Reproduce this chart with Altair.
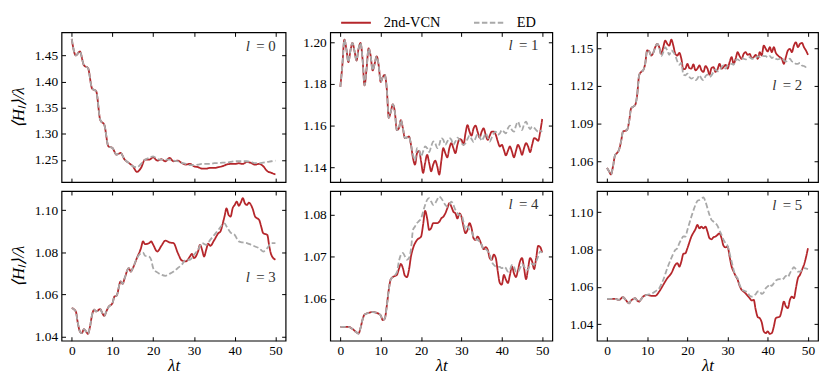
import altair as alt
import pandas as pd

SERIES = ["2nd-VCN", "ED"]
X_TICKS = [0, 10, 20, 30, 40, 50]

# ---------------- l = 0 ----------------
t_l0 = list(range(51))
vcn_l0 = [1.4816, 1.4500, 1.4576, 1.4310, 1.4259, 1.3867, 1.3816, 1.3266, 1.3171, 1.2759,
          1.2728, 1.2601, 1.2633, 1.2506, 1.2443, 1.2380, 1.2272, 1.2348, 1.2506, 1.2506,
          1.2551, 1.2487, 1.2513, 1.2475, 1.2538, 1.2475, 1.2487, 1.2443, 1.2411, 1.2424,
          1.2380, 1.2361, 1.2335, 1.2335, 1.2348, 1.2348, 1.2361, 1.2380, 1.2411, 1.2424,
          1.2424, 1.2437, 1.2424, 1.2462, 1.2443, 1.2411, 1.2424, 1.2380, 1.2285, 1.2253,
          1.2222]
ed_l0 = [1.4816, 1.4500, 1.4576, 1.4310, 1.4259, 1.3867, 1.3816, 1.3266, 1.3171, 1.2759,
         1.2728, 1.2601, 1.2633, 1.2506, 1.2443, 1.2380, 1.2360, 1.2424, 1.2506, 1.2538,
         1.2570, 1.2519, 1.2506, 1.2506, 1.2506, 1.2487, 1.2475, 1.2443, 1.2424, 1.2399,
         1.2399, 1.2411, 1.2424, 1.2424, 1.2424, 1.2437, 1.2437, 1.2449, 1.2449, 1.2462,
         1.2475, 1.2475, 1.2475, 1.2475, 1.2462, 1.2437, 1.2437, 1.2449, 1.2462, 1.2475,
         1.2487]

# ---------------- l = 1 ----------------
t_l1 = [i * 0.5 for i in range(101)]
vcn_l1 = [1.1786, 1.1889, 1.2013, 1.1968, 1.1905, 1.1960, 1.1997, 1.1960, 1.1913, 1.1968,
          1.1997, 1.1921, 1.1794, 1.1873, 1.1971, 1.1937, 1.1865, 1.1897, 1.1933, 1.1889,
          1.1810, 1.1833, 1.1844, 1.1778, 1.1638, 1.1667, 1.1702, 1.1667, 1.1579, 1.1587,
          1.1627, 1.1587, 1.1540, 1.1543, 1.1548, 1.1508,
          1.1444, 1.1413, 1.1468, 1.1479, 1.1429, 1.1373, 1.1421, 1.1460, 1.1421, 1.1381,
          1.1413, 1.1432, 1.1405, 1.1365, 1.1429, 1.1492, 1.1468, 1.1448, 1.1492, 1.1516,
          1.1492, 1.1468, 1.1508, 1.1536, 1.1532, 1.1508, 1.1563, 1.1603, 1.1571, 1.1552,
          1.1587, 1.1600, 1.1571, 1.1543, 1.1571, 1.1587, 1.1556, 1.1532, 1.1552, 1.1571,
          1.1571, 1.1556, 1.1524, 1.1500, 1.1508, 1.1484, 1.1457, 1.1479, 1.1500, 1.1476,
          1.1448, 1.1479, 1.1508, 1.1489, 1.1460, 1.1492, 1.1516, 1.1500, 1.1473, 1.1508,
          1.1540, 1.1536, 1.1527, 1.1571, 1.1632]
ed_l1 = [1.1786, 1.1889, 1.2013, 1.1968, 1.1905, 1.1960, 1.1997, 1.1960, 1.1913, 1.1968,
         1.1997, 1.1921, 1.1794, 1.1873, 1.1971, 1.1937, 1.1865, 1.1897, 1.1933, 1.1889,
         1.1810, 1.1833, 1.1844, 1.1778, 1.1638, 1.1667, 1.1702, 1.1667, 1.1579, 1.1587,
         1.1627, 1.1587, 1.1540, 1.1543, 1.1548, 1.1508,
         1.1460, 1.1432, 1.1492, 1.1484, 1.1452, 1.1476, 1.1500, 1.1492, 1.1473, 1.1500,
         1.1524, 1.1516, 1.1492, 1.1508, 1.1540, 1.1532, 1.1508, 1.1524, 1.1540, 1.1532,
         1.1508, 1.1524, 1.1543, 1.1532, 1.1516, 1.1508, 1.1516, 1.1536, 1.1552, 1.1536,
         1.1521, 1.1540, 1.1559, 1.1548, 1.1527, 1.1543, 1.1563, 1.1543, 1.1524, 1.1543,
         1.1563, 1.1571, 1.1556, 1.1563, 1.1579, 1.1571, 1.1563, 1.1587, 1.1600, 1.1579,
         1.1571, 1.1600, 1.1619, 1.1595, 1.1579, 1.1606, 1.1619, 1.1598, 1.1584, 1.1595,
         1.1590, 1.1579, 1.1571, 1.1575, 1.1571]

# ---------------- l = 2 ----------------
t_l2 = [i * 0.5 for i in range(101)]
vcn_l2 = [1.0547, 1.0521, 1.0495, 1.0560, 1.0647, 1.0666, 1.0692, 1.0758, 1.0837, 1.0842,
          1.0850, 1.0916, 1.1021, 1.1034, 1.1047, 1.1126, 1.1284, 1.1311, 1.1324, 1.1376,
          1.1482, 1.1474, 1.1442, 1.1463, 1.1508, 1.1534, 1.1508, 1.1455, 1.1508, 1.1561,
          1.1534, 1.1521, 1.1568, 1.1521, 1.1455, 1.1442, 1.1463, 1.1416, 1.1332, 1.1337,
          1.1376, 1.1342, 1.1337, 1.1371, 1.1324, 1.1337, 1.1363, 1.1324, 1.1311, 1.1358,
          1.1337, 1.1289, 1.1342, 1.1350, 1.1311, 1.1332, 1.1376, 1.1337, 1.1350, 1.1368,
          1.1337, 1.1389, 1.1429, 1.1376, 1.1416, 1.1468, 1.1437, 1.1416, 1.1455, 1.1468,
          1.1447, 1.1455, 1.1421, 1.1429, 1.1447, 1.1416, 1.1468, 1.1442, 1.1521, 1.1495,
          1.1474, 1.1508, 1.1468, 1.1508, 1.1463, 1.1442, 1.1429, 1.1416, 1.1376, 1.1429,
          1.1482, 1.1495, 1.1468, 1.1521, 1.1547, 1.1508, 1.1534, 1.1542, 1.1508, 1.1482,
          1.1447]
ed_l2 = [1.0547, 1.0521, 1.0495, 1.0560, 1.0647, 1.0666, 1.0692, 1.0758, 1.0837, 1.0842,
         1.0850, 1.0916, 1.1021, 1.1034, 1.1047, 1.1126, 1.1284, 1.1311, 1.1324, 1.1376,
         1.1482, 1.1474, 1.1442, 1.1463, 1.1508, 1.1534, 1.1508,
         1.1437, 1.1468, 1.1508, 1.1482, 1.1447, 1.1482, 1.1468, 1.1442, 1.1395, 1.1368,
         1.1384, 1.1289, 1.1284,
         1.1297, 1.1271, 1.1258, 1.1263, 1.1245, 1.1258, 1.1284, 1.1258, 1.1245, 1.1276,
         1.1289, 1.1271, 1.1284, 1.1311, 1.1332, 1.1316, 1.1324, 1.1350, 1.1363, 1.1337,
         1.1363, 1.1368, 1.1376, 1.1368, 1.1403, 1.1411, 1.1403, 1.1421, 1.1416, 1.1411,
         1.1421, 1.1429, 1.1416, 1.1416, 1.1421, 1.1437, 1.1429, 1.1442, 1.1437, 1.1437,
         1.1426, 1.1437, 1.1421, 1.1429, 1.1416, 1.1411, 1.1416, 1.1421, 1.1403, 1.1395,
         1.1403, 1.1416, 1.1395, 1.1389, 1.1376, 1.1376, 1.1384, 1.1363, 1.1358, 1.1350,
         1.1350]

# ---------------- l = 3 ----------------
t_vcn_l3 = [0, 1, 1.5, 2, 2.5, 3, 3.5, 4, 4.5, 5, 5.5, 6, 7, 7.5, 8, 8.5, 9, 10, 10.5, 11,
            12, 12.5, 13, 14, 14.5, 15, 16, 17, 17.5, 18, 19, 19.5, 20, 21, 22, 23, 24, 25,
            26, 27, 28, 29, 29.5, 30, 31, 31.5, 32, 32.5, 33, 33.5, 34, 35, 36, 36.5, 37,
            37.5, 38, 38.5, 39, 39.5, 40, 40.5, 41, 41.5, 42, 42.5, 43, 43.5, 44, 44.5, 45,
            45.5, 46, 46.5, 47, 48, 48.5, 49, 50]
vcn_l3 = [1.0536, 1.0520, 1.0465, 1.0425, 1.0417, 1.0436, 1.0425, 1.0414, 1.0449, 1.0504,
          1.0528, 1.0520, 1.0531, 1.0512, 1.0499, 1.0520, 1.0540, 1.0559, 1.0591, 1.0594,
          1.0662, 1.0651, 1.0678, 1.0725, 1.0709, 1.0725, 1.0773, 1.0820, 1.0852, 1.0839,
          1.0844, 1.0852, 1.0836, 1.0804, 1.0831, 1.0856, 1.0847, 1.0844, 1.0799, 1.0762,
          1.0757, 1.0780, 1.0793, 1.0773, 1.0804, 1.0836, 1.0812, 1.0780, 1.0812, 1.0841,
          1.0831, 1.0859, 1.0891, 1.0899, 1.0931, 1.0970, 1.1009, 1.0978, 1.0970, 1.1009,
          1.1025, 1.1041, 1.1021, 1.1036, 1.1057, 1.1033, 1.1025, 1.1036, 1.1025, 1.1002,
          1.0970, 1.0962, 1.0954, 1.0923, 1.0891, 1.0883, 1.0828, 1.0788, 1.0765]
t_ed_l3 = [0, 1, 1.5, 2, 2.5, 3, 3.5, 4, 4.5, 5, 5.5, 6, 7, 7.5, 8, 8.5, 9, 10, 10.5, 11,
           12, 12.5, 13, 14, 14.5, 15, 16, 17, 17.5, 18, 19, 19.5, 20, 21, 22, 23, 24, 25,
           26, 27, 28, 29, 30, 31, 32, 33, 34, 35, 36, 37, 37.5, 38, 39, 40, 41, 42, 43,
           44, 45, 46, 47, 48, 49, 50]
ed_l3 = [1.0536, 1.0520, 1.0465, 1.0425, 1.0417, 1.0436, 1.0425, 1.0414, 1.0449, 1.0504,
         1.0528, 1.0520, 1.0531, 1.0512, 1.0499, 1.0520, 1.0540, 1.0559, 1.0591, 1.0594,
         1.0662, 1.0651, 1.0678, 1.0725, 1.0709, 1.0725, 1.0773,
         1.0796, 1.0799, 1.0784, 1.0780, 1.0765, 1.0725, 1.0705, 1.0694, 1.0689, 1.0698,
         1.0709, 1.0725, 1.0741, 1.0765, 1.0765, 1.0788, 1.0812, 1.0844, 1.0836, 1.0859,
         1.0883, 1.0907, 1.0931, 1.0938, 1.0923, 1.0894, 1.0883, 1.0852, 1.0847, 1.0844,
         1.0836, 1.0828, 1.0820, 1.0804, 1.0820, 1.0844, 1.0844]

# ---------------- l = 4 ----------------
t_vcn_l4 = [0, 1, 2, 3, 4, 4.5, 5, 5.5, 6, 7, 8, 9, 10, 10.5, 11, 11.5, 12, 12.5, 13, 14,
            14.5, 15, 15.5, 16, 16.5, 17, 17.5, 18, 19, 20, 20.5, 21, 21.5, 22, 22.5, 23,
            23.5, 24, 24.5, 25, 25.5, 26, 26.5, 27, 27.5, 28, 28.5, 29, 29.5, 30, 30.5, 31,
            31.5, 32, 32.5, 33, 33.5, 34, 34.5, 35, 35.5, 36, 36.5, 37, 37.5, 38, 38.5, 39,
            39.5, 40, 40.5, 41, 41.5, 42, 42.5, 43, 43.5, 44, 44.5, 45, 45.5, 46, 46.5, 47,
            47.5, 48, 48.5, 49, 49.5, 50]
vcn_l4 = [1.0534, 1.0534, 1.0534, 1.0529, 1.0521, 1.0518, 1.0531, 1.0551, 1.0563, 1.0567,
          1.0569, 1.0567, 1.0561, 1.0550, 1.0553, 1.0583, 1.0622, 1.0647, 1.0652, 1.0657,
          1.0671, 1.0683, 1.0673, 1.0655, 1.0652, 1.0669, 1.0701, 1.0720, 1.0740, 1.0748,
          1.0776, 1.0809, 1.0791, 1.0764, 1.0768, 1.0780, 1.0780, 1.0780, 1.0783, 1.0791,
          1.0795, 1.0803, 1.0815, 1.0827, 1.0819, 1.0807, 1.0803, 1.0791, 1.0803, 1.0795,
          1.0772, 1.0756, 1.0764, 1.0780, 1.0768, 1.0744, 1.0740, 1.0748, 1.0740, 1.0728,
          1.0718, 1.0723, 1.0717, 1.0697, 1.0693, 1.0705, 1.0697, 1.0665, 1.0638, 1.0634,
          1.0657, 1.0646, 1.0638, 1.0657, 1.0677, 1.0661, 1.0652, 1.0669, 1.0689, 1.0697,
          1.0673, 1.0647, 1.0673, 1.0697, 1.0689, 1.0671, 1.0697, 1.0726, 1.0723, 1.0710]
t_ed_l4 = [0, 1, 2, 3, 4, 4.5, 5, 5.5, 6, 7, 8, 9, 10, 10.5, 11, 11.5, 12, 12.5, 13] + \
          [14 + i * 0.5 for i in range(73)]
ed_l4 = [1.0534, 1.0534, 1.0534, 1.0529, 1.0521, 1.0518, 1.0531, 1.0551, 1.0563, 1.0567,
         1.0569, 1.0567, 1.0561, 1.0550, 1.0553, 1.0583, 1.0622, 1.0647, 1.0652,
         1.0663, 1.0689, 1.0705, 1.0709, 1.0701, 1.0693, 1.0697, 1.0718, 1.0764, 1.0772,
         1.0780, 1.0785, 1.0791, 1.0807, 1.0823, 1.0835, 1.0839, 1.0831, 1.0823, 1.0827,
         1.0836, 1.0843, 1.0839, 1.0831, 1.0823, 1.0819, 1.0823, 1.0831, 1.0823, 1.0811,
         1.0803, 1.0799, 1.0799, 1.0783, 1.0764, 1.0772, 1.0764, 1.0760, 1.0748, 1.0742,
         1.0740, 1.0736, 1.0728, 1.0717, 1.0718, 1.0713, 1.0705, 1.0689, 1.0681, 1.0677,
         1.0676, 1.0676, 1.0673, 1.0676, 1.0673, 1.0665, 1.0669, 1.0681, 1.0677, 1.0665,
         1.0665, 1.0673, 1.0683, 1.0677, 1.0669, 1.0669, 1.0681, 1.0683, 1.0681, 1.0689,
         1.0701, 1.0713, 1.0710]

# ---------------- l = 5 ----------------
t_vcn_l5 = [0, 1, 2, 3, 4, 4.5, 5, 5.5, 6, 6.5, 7, 7.5, 8, 8.5, 9, 10, 11, 12, 13, 14, 15,
            16, 17, 17.5, 18, 18.5, 19, 19.5, 20, 21, 22, 22.5, 23, 23.5, 24, 24.5, 25,
            25.5, 26, 26.5, 27, 27.5, 28, 28.5, 29, 29.5, 30, 30.5, 31, 31.5, 32, 32.5, 33,
            33.5, 34, 35, 35.5, 36, 36.5, 37, 37.5, 38, 38.5, 39, 39.5, 40, 40.5, 41, 41.5,
            42, 43, 43.5, 44, 44.5, 45, 45.5, 46, 46.5, 47, 47.5, 48, 48.5, 49, 50]
vcn_l5 = [1.0536, 1.0536, 1.0536, 1.0530, 1.0545, 1.0534, 1.0521, 1.0512, 1.0527, 1.0534,
          1.0539, 1.0527, 1.0521, 1.0534, 1.0548, 1.0557, 1.0552, 1.0552, 1.0575, 1.0611,
          1.0646, 1.0673, 1.0718, 1.0727, 1.0709, 1.0736, 1.0777, 1.0780, 1.0807, 1.0870,
          1.0909, 1.0932, 1.0914, 1.0923, 1.0914, 1.0923, 1.0896, 1.0861, 1.0855, 1.0866,
          1.0870, 1.0879, 1.0887, 1.0861, 1.0820, 1.0812, 1.0816, 1.0762, 1.0709, 1.0682,
          1.0659, 1.0638, 1.0605, 1.0584, 1.0575, 1.0552, 1.0539, 1.0527, 1.0530, 1.0477,
          1.0438, 1.0432, 1.0409, 1.0361, 1.0352, 1.0361, 1.0348, 1.0352, 1.0387, 1.0432,
          1.0441, 1.0477, 1.0521, 1.0495, 1.0486, 1.0530, 1.0548, 1.0539, 1.0593, 1.0646,
          1.0664, 1.0691, 1.0718, 1.0807]
t_ed_l5 = [0, 1, 2, 3, 4, 4.5, 5, 5.5, 6, 6.5, 7, 7.5, 8, 8.5, 9, 10, 11, 12, 13, 14, 15,
           16, 17, 17.5, 18, 18.5, 19, 19.5, 20, 21, 22, 22.5, 23, 23.5, 24, 24.5, 25,
           25.5, 26, 26.5, 27, 27.5, 28, 28.5, 29, 29.5, 30, 30.5, 31, 31.5, 32, 32.5, 33,
           33.5, 34, 35, 35.5, 36, 36.5, 37, 37.5, 38, 38.5, 39, 39.5, 40, 40.5, 41, 41.5,
           42, 43, 43.5, 44, 44.5, 45, 45.5, 46, 46.5, 47, 47.5, 48, 48.5, 49, 50]
ed_l5 = [1.0536, 1.0536, 1.0536, 1.0530, 1.0545, 1.0534, 1.0521, 1.0512, 1.0527, 1.0534,
         1.0539, 1.0527, 1.0521, 1.0534, 1.0548, 1.0557, 1.0562, 1.0575, 1.0593, 1.0638,
         1.0700, 1.0754, 1.0798, 1.0807, 1.0834, 1.0855, 1.0870, 1.0870, 1.0905, 1.0977,
         1.1039, 1.1061, 1.1066, 1.1073, 1.1080, 1.1057, 1.1021, 1.0986, 1.0959, 1.0950,
         1.0941, 1.0927, 1.0902, 1.0879, 1.0852, 1.0834, 1.0820, 1.0780, 1.0736, 1.0691,
         1.0659, 1.0646, 1.0611, 1.0588, 1.0580, 1.0570, 1.0552, 1.0548, 1.0552, 1.0561,
         1.0575, 1.0575, 1.0562, 1.0570, 1.0593, 1.0602, 1.0614, 1.0605, 1.0620, 1.0634,
         1.0641, 1.0638, 1.0646, 1.0659, 1.0652, 1.0673, 1.0691, 1.0705, 1.0695, 1.0682,
         1.0682, 1.0691, 1.0700, 1.0695]

Y_TICKS = [
    [1.25, 1.30, 1.35, 1.40, 1.45],
    [1.14, 1.16, 1.18, 1.20],
    [1.06, 1.09, 1.12, 1.15],
    [1.04, 1.06, 1.08, 1.10],
    [1.06, 1.07, 1.08],
    [1.04, 1.06, 1.08, 1.10],
]
Y_DOMAINS = [
    [1.2076, 1.4942],
    [1.1329, 1.2048],
    [1.0434, 1.1626],
    [1.0381, 1.1091],
    [1.0501, 1.0856],
    [1.0311, 1.1114],
]

RED = "#B5262B"
GRAY = "#A9A9A9"
FONT = "Liberation Serif"
H = 151
TICK = 4
COL_W = [226, 224, 223]


def panel(idx, tv, vv, te, ve, bottom, left, legend, lab_r, lab_y):
    w = COL_W[idx % 3]
    df = pd.DataFrame({
        "t": list(tv) + list(te),
        "v": list(vv) + list(ve),
        "s": [SERIES[0]] * len(vv) + [SERIES[1]] * len(ve),
    })
    xs = alt.Scale(domain=[-2.5, 52.5], nice=False, zero=False)
    ys = alt.Scale(domain=Y_DOMAINS[idx], nice=False, zero=False)

    xkw = dict(orient="bottom", values=X_TICKS, format="d", labels=bottom,
               tickSize=TICK, offset=-TICK, domain=False, grid=False, labelPadding=3)
    xkw["title"] = "λt" if bottom else None
    ykw = dict(orient="left", values=Y_TICKS[idx], format=".2f", tickSize=TICK,
               offset=-TICK, domain=False, grid=False, labelPadding=4)
    ykw["title"] = "⟨Hₗ⟩/λ" if left else None

    if legend:
        leg = alt.Legend(orient="none", legendX=10, legendY=-26, direction="horizontal",
                         title=None, symbolType="stroke", symbolSize=900,
                         symbolStrokeWidth=2, labelFont=FONT, labelFontSize=14.5,
                         labelColor="black", labelOffset=12, columnPadding=29, padding=0)
    else:
        leg = None

    main = alt.Chart(df).mark_line(strokeWidth=1.8, interpolate="monotone").encode(
        x=alt.X("t:Q", scale=xs, axis=alt.Axis(**xkw)),
        y=alt.Y("v:Q", scale=ys, axis=alt.Axis(**ykw)),
        color=alt.Color("s:N", scale=alt.Scale(domain=SERIES, range=[RED, GRAY]), legend=leg),
        strokeDash=alt.StrokeDash("s:N", scale=alt.Scale(domain=SERIES, range=[[1, 0], [5.5, 2.5]]),
                                  legend=leg),
    )
    frame = alt.Chart(df).mark_line(strokeOpacity=0).encode(
        x=alt.X("t:Q", scale=xs, axis=alt.Axis(orient="top", values=X_TICKS, labels=False,
                                               title=None, tickSize=TICK, offset=-TICK,
                                               domain=False, grid=False)),
        y=alt.Y("v:Q", scale=ys, axis=alt.Axis(orient="right", values=Y_TICKS[idx], labels=False,
                                               title=None, tickSize=TICK, offset=-TICK,
                                               domain=False, grid=False)),
    )
    lab_df = pd.DataFrame({"l": ["l"], "eq": [f"= {idx}"]})
    l_txt = alt.Chart(lab_df).mark_text(font=FONT, fontStyle="italic", fontSize=15,
                                        align="right", baseline="middle", color="#333333").encode(
        x=alt.value(lab_r - 26), y=alt.value(lab_y), text="l:N")
    eq_txt = alt.Chart(lab_df).mark_text(font=FONT, fontSize=15, align="right",
                                         baseline="middle", color="#333333").encode(
        x=alt.value(lab_r), y=alt.value(lab_y), text="eq:N")
    return alt.layer(main, frame, l_txt, eq_txt).resolve_axis(
        x="independent", y="independent").properties(width=w, height=H)


p0 = panel(0, t_l0, vcn_l0, t_l0, ed_l0, False, True, False, 216, 14)
p1 = panel(1, t_l1, vcn_l1, t_l1, ed_l1, False, False, True, 210, 13)
p2 = panel(2, t_l2, vcn_l2, t_l2, ed_l2, False, False, False, 207, 53)
p3 = panel(3, t_vcn_l3, vcn_l3, t_ed_l3, ed_l3, True, True, False, 216, 87)
p4 = panel(4, t_vcn_l4, vcn_l4, t_ed_l4, ed_l4, True, False, False, 210, 13)
p5 = panel(5, t_vcn_l5, vcn_l5, t_ed_l5, ed_l5, True, False, False, 207, 14)

chart = alt.concat(
    p0, p1, p2, p3, p4, p5, columns=3, spacing={"row": 9, "column": 45}, bounds="flush"
).resolve_scale(
    color="independent", strokeDash="independent"
).properties(
    padding={"left": 0, "top": -4, "right": 2, "bottom": 0}
).configure_view(
    stroke="black", strokeWidth=1.2
).configure_axis(
    labelFont=FONT, labelFontSize=13.5, labelColor="black", tickColor="black", tickWidth=1,
    titleFont=FONT, titleFontSize=17, titleFontWeight="normal", titleFontStyle="italic",
    titleColor="black", titlePadding=7
).configure_axisBottom(titlePadding=1)

chart.save("out.html", embed_options={"renderer": "svg", "actions": False})
